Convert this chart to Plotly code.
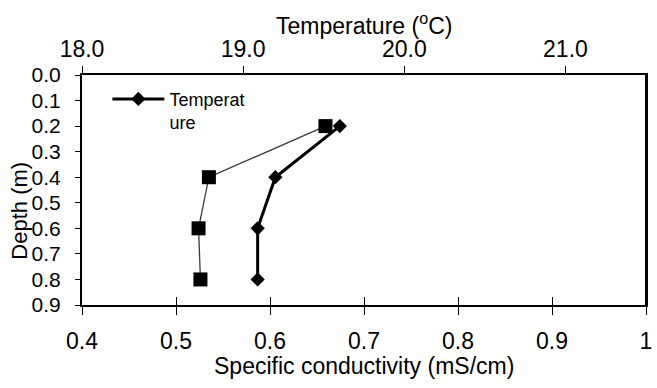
import plotly.graph_objects as go

depth = [0.2, 0.4, 0.6, 0.8]
temperature = [19.60, 19.20, 19.09, 19.09]
conductivity = [0.659, 0.535, 0.524, 0.526]

y_ticks = [0.0, 0.1, 0.2, 0.3, 0.4, 0.5, 0.6, 0.7, 0.8, 0.9]
x_ticks = [0.4, 0.5, 0.6, 0.7, 0.8, 0.9, 1.0]
x_tick_text = ["0.4", "0.5", "0.6", "0.7", "0.8", "0.9", "1"]
t_ticks = [18.0, 19.0, 20.0, 21.0]

FONT = "Liberation Sans"

fig = go.Figure()
fig.add_trace(go.Scatter(
    x=conductivity, y=depth, mode="lines+markers", xaxis="x", yaxis="y",
    line=dict(color="#3a3a3a", width=1.3),
    marker=dict(symbol="square", size=14, color="black"),
    showlegend=False, name="Specific conductivity"))
fig.add_trace(go.Scatter(
    x=temperature, y=depth, mode="lines+markers", xaxis="x2", yaxis="y",
    line=dict(color="black", width=3),
    marker=dict(symbol="diamond", size=11, color="black"),
    name="Temperat<br>ure"))

base = dict(showgrid=False, zeroline=False, showline=True, linecolor="black",
            linewidth=2, ticks="outside", tickcolor="black", tickwidth=1)

fig.update_layout(
    width=657, height=388,
    margin=dict(l=82, r=5, t=75, b=83),
    paper_bgcolor="white", plot_bgcolor="white",
    font=dict(family=FONT, color="black"),
    xaxis=dict(range=[0.4, 1.0], tickvals=x_ticks, ticktext=x_tick_text,
               tickfont=dict(size=23), ticklen=8, ticklabelstandoff=6, **base),
    xaxis3=dict(range=[0.4, 1.0], tickvals=x_ticks, showticklabels=False, overlaying="x",
                side="bottom", showgrid=False, zeroline=False, showline=False,
                ticks="inside", ticklen=8, tickcolor="black", tickwidth=1),
    xaxis2=dict(range=[18.0, 21.5], tickvals=t_ticks, tickformat=".1f", overlaying="x",
                side="top", tickfont=dict(size=23), ticklen=7, **base),
    yaxis=dict(range=[0.9, 0.0], tickvals=y_ticks, tickformat=".1f",
               tickfont=dict(size=21), mirror=True, ticklen=5, ticklabelstandoff=10, **base),
    legend=dict(x=0.045, y=0.975, xanchor="left", yanchor="top", bgcolor="rgba(0,0,0,0)",
                font=dict(size=18), itemwidth=52, valign="top"),
    annotations=[
        dict(text="Depth (m)", xref="paper", yref="paper", x=-0.11, y=0.41,
             textangle=-90, showarrow=False, font=dict(size=22),
             xanchor="center", yanchor="middle"),
        dict(text="Temperature (<sup>o</sup>C)", xref="paper", yref="paper", x=0.5,
             y=(305 - 24) / 230, showarrow=False, font=dict(size=23),
             xanchor="center", yanchor="middle"),
        dict(text="Specific conductivity (mS/cm)", xref="paper", yref="paper", x=0.5,
             y=(305 - 366) / 230, showarrow=False, font=dict(size=23),
             xanchor="center", yanchor="middle"),
    ],
)
# invisible trace to activate the inside-tick overlay axis
fig.add_trace(go.Scatter(x=[None], y=[None], xaxis="x3", yaxis="y", showlegend=False,
                         hoverinfo="skip"))
fig.add_shape(type="line", xref="paper", yref="paper", x0=1, x1=1, y0=0, y1=1,
              line=dict(color="black", width=2))

fig.write_html("out.html")
